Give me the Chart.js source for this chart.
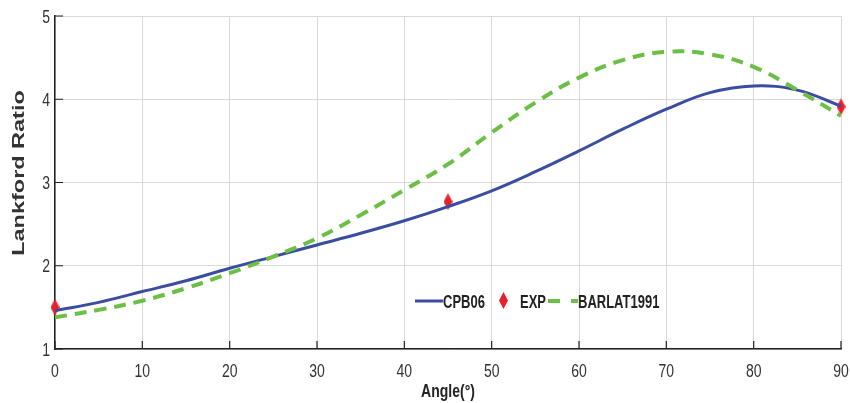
<!DOCTYPE html>
<html lang="en">
<head>
  <meta charset="UTF-8" />
  <title>Lankford Ratio</title>
  <script src="https://cdn.jsdelivr.net/npm/chart.js"></script>
  <style>
    body { margin: 0; background: #fff; }
    #wrap { width: 850px; height: 403px; }
  </style>
</head>
<body>
  <div id="wrap"><canvas id="lankford" width="850" height="403"></canvas></div>
  <script>
    // data
    const angles = [0, 5, 10, 15, 20, 25, 30, 35, 40, 45, 50, 55, 60, 65, 70, 75, 80, 85, 90];
    const cpb06 = [1.46, 1.56, 1.69, 1.82, 1.97, 2.11, 2.25, 2.39, 2.54, 2.71, 2.90, 3.13, 3.38, 3.64, 3.88, 4.08, 4.16, 4.11, 3.92];
    const barlat1991 = [1.38, 1.47, 1.58, 1.73, 1.91, 2.11, 2.33, 2.61, 2.91, 3.22, 3.60, 3.96, 4.26, 4.47, 4.57, 4.54, 4.39, 4.11, 3.80];
    const expAngles = [0, 45, 90];
    const expValues = [1.50, 2.77, 3.91];
    const xTicks = [0, 10, 20, 30, 40, 50, 60, 70, 80, 90];
    const yTicks = [1, 2, 3, 4, 5];

    const FONT = "'Liberation Sans', Arial, sans-serif";
    const BLUE = '#3a4da0';
    const GREEN = '#6cbf45';
    const RED = '#e8202a';

    // tall red diamond for EXP
    function diamond(w, h) {
      const c = document.createElement('canvas');
      c.width = w; c.height = h;
      const g = c.getContext('2d');
      g.fillStyle = RED;
      g.beginPath();
      g.moveTo(w / 2, 0); g.lineTo(w, h / 2); g.lineTo(w / 2, h); g.lineTo(0, h / 2);
      g.closePath(); g.fill();
      return c;
    }
    const diamondImg = diamond(9, 17);

    const pairs = (xs, ys) => xs.map((x, i) => ({ x: x, y: ys[i] }));

    // the reference text is narrow and tall, so stretch it vertically
    function tallText(ctx, str, x, baseline, font, align, sy) {
      ctx.save();
      ctx.font = font;
      ctx.textAlign = align;
      ctx.textBaseline = 'alphabetic';
      ctx.translate(x, baseline);
      ctx.scale(1, sy);
      ctx.fillText(str, 0, 0);
      ctx.restore();
    }

    // tick labels, inside tick marks, axis titles, legend in plot
    const extras = {
      id: 'extras',
      afterDraw(chart) {
        const ctx = chart.ctx;
        const { x, y } = chart.scales;
        const a = chart.chartArea;
        ctx.save();
        ctx.strokeStyle = '#222';
        ctx.lineWidth = 1.2;
        ctx.beginPath();
        yTicks.forEach(v => {
          const py = y.getPixelForValue(v);
          ctx.moveTo(a.left, py); ctx.lineTo(a.left + 8, py);
        });
        xTicks.forEach(v => {
          const px = x.getPixelForValue(v);
          ctx.moveTo(px, a.bottom); ctx.lineTo(px, a.bottom - 8);
        });
        ctx.stroke();

        ctx.fillStyle = '#333';
        const tickFont = '14px ' + FONT;
        yTicks.forEach(v => {
          tallText(ctx, String(v), a.left - 5, y.getPixelForValue(v) + 6.5, tickFont, 'right', 1.25);
        });
        xTicks.forEach(v => {
          tallText(ctx, String(v), x.getPixelForValue(v), a.bottom + 28, tickFont, 'center', 1.25);
        });

        ctx.fillStyle = '#222';
        tallText(ctx, 'Angle(°)', (a.left + a.right) / 2, 397, 'bold 14px ' + FONT, 'center', 1.32);

        // y title
        ctx.fillStyle = '#333';
        ctx.font = 'bold 17px ' + FONT;
        ctx.textAlign = 'center';
        ctx.textBaseline = 'middle';
        ctx.translate(19, 173);
        ctx.rotate(-Math.PI / 2);
        ctx.scale(1.38, 1);
        ctx.fillText('Lankford Ratio', 0, 0);
        ctx.restore();

        // legend
        ctx.save();
        const ly = 301;
        const lf = 'bold 13px ' + FONT;
        ctx.fillStyle = '#222';
        ctx.strokeStyle = BLUE; ctx.lineWidth = 3;
        ctx.beginPath(); ctx.moveTo(415, ly); ctx.lineTo(443, ly); ctx.stroke();
        tallText(ctx, 'CPB06', 443, 308, lf, 'left', 1.38);
        ctx.drawImage(diamondImg, 499, ly - 9);
        tallText(ctx, 'EXP', 520, 308, lf, 'left', 1.38);
        ctx.strokeStyle = GREEN; ctx.lineWidth = 4;
        ctx.setLineDash([12, 11]);
        ctx.beginPath(); ctx.moveTo(548, ly); ctx.lineTo(578, ly); ctx.stroke();
        ctx.setLineDash([]);
        tallText(ctx, 'BARLAT1991', 578, 308, lf, 'left', 1.38);
        ctx.restore();
      }
    };

    new Chart(document.getElementById('lankford'), {
      type: 'line',
      data: {
        datasets: [
          {
            label: 'BARLAT1991',
            data: pairs(angles, barlat1991),
            borderColor: GREEN,
            borderWidth: 4,
            borderDash: [12, 8],
            pointRadius: 0,
            tension: 0.4,
            fill: false
          },
          {
            label: 'CPB06',
            data: pairs(angles, cpb06),
            borderColor: BLUE,
            borderWidth: 3,
            pointRadius: 0,
            tension: 0.4,
            fill: false
          },
          {
            label: 'EXP',
            data: pairs(expAngles, expValues),
            showLine: false,
            pointStyle: diamondImg,
            pointRadius: 8,
            clip: false
          }
        ]
      },
      options: {
        responsive: false,
        animation: false,
        layout: { padding: { top: 16, right: 5, left: 0, bottom: 0 } },
        plugins: { legend: { display: false }, tooltip: { enabled: false } },
        scales: {
          x: {
            type: 'linear',
            min: 0, max: 90,
            afterFit: s => { s.height = 54; },
            afterBuildTicks: s => { s.ticks = xTicks.map(v => ({ value: v })); },
            grid: { color: '#d9d9d9', lineWidth: 1, drawTicks: false },
            border: { color: '#222', width: 1.5 },
            ticks: { display: false }
          },
          y: {
            min: 1, max: 5,
            afterFit: s => { s.width = 55; },
            afterBuildTicks: s => { s.ticks = yTicks.map(v => ({ value: v })); },
            grid: { color: '#d9d9d9', lineWidth: 1, drawTicks: false },
            border: { color: '#222', width: 1.5 },
            ticks: { display: false }
          }
        }
      },
      plugins: [extras]
    });
  </script>
</body>
</html>
